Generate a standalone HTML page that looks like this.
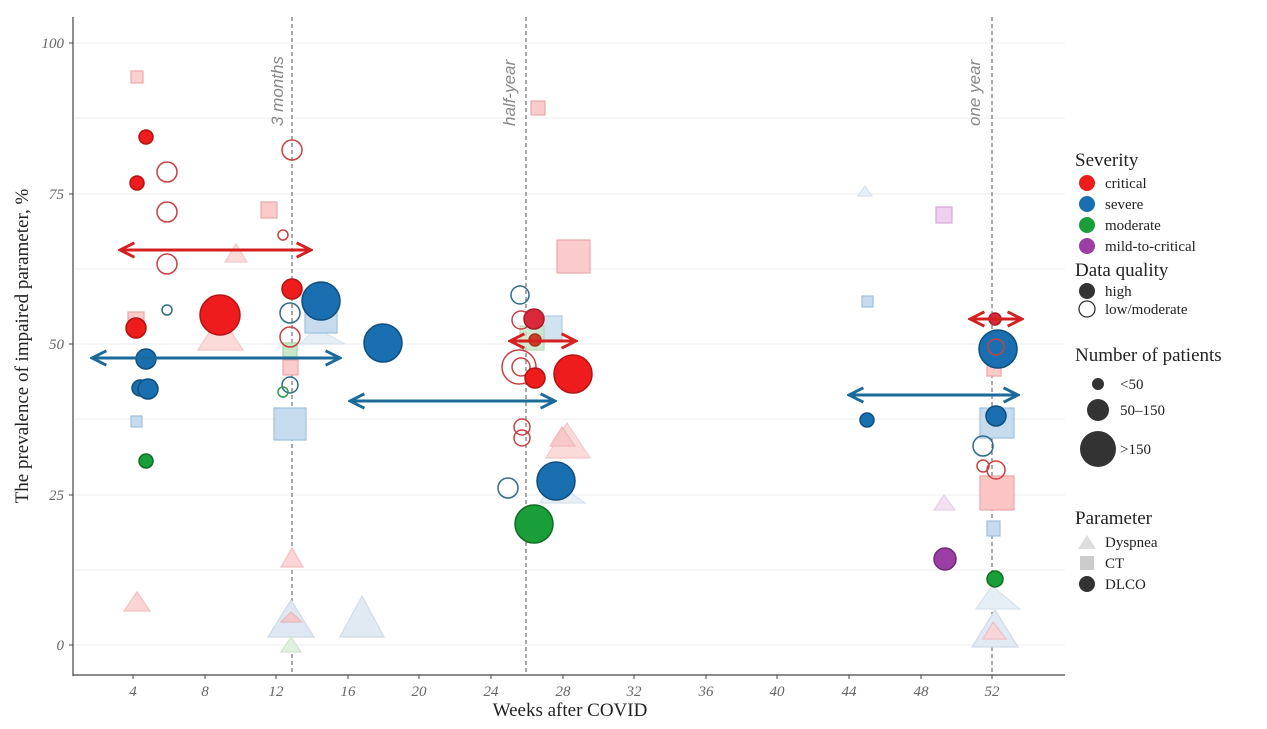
<!DOCTYPE html>
<html><head><meta charset="utf-8"><style>
body{margin:0;background:#fff;}
svg text{font-family:"Liberation Serif",serif;}
</style></head><body>
<svg width="1267" height="724" viewBox="0 0 1267 724" xmlns="http://www.w3.org/2000/svg">
<defs>
<marker id="ar" viewBox="0 0 10 10" refX="9" refY="5" markerWidth="6" markerHeight="6" orient="auto-start-reverse"><path d="M1,1 L9,5 L1,9" fill="none" stroke="context-stroke" stroke-width="1.6"/></marker>
</defs>
<g stroke="#f0f0f0" stroke-width="1.2">
<line x1="74" x2="1065" y1="43" y2="43"/><line x1="74" x2="1065" y1="118" y2="118"/>
<line x1="74" x2="1065" y1="194" y2="194"/><line x1="74" x2="1065" y1="269" y2="269"/>
<line x1="74" x2="1065" y1="344" y2="344"/><line x1="74" x2="1065" y1="419" y2="419"/>
<line x1="74" x2="1065" y1="495" y2="495"/><line x1="74" x2="1065" y1="570" y2="570"/>
<line x1="74" x2="1065" y1="645" y2="645"/>
</g>
<line x1="73" y1="17" x2="73" y2="676" stroke="#444" stroke-width="1.2"/>
<line x1="73" y1="675" x2="1065" y2="675" stroke="#444" stroke-width="1.2"/>
<g stroke="#444" stroke-width="1">
<line x1="69" x2="73" y1="43" y2="43"/><line x1="69" x2="73" y1="194" y2="194"/><line x1="69" x2="73" y1="344" y2="344"/><line x1="69" x2="73" y1="495" y2="495"/><line x1="69" x2="73" y1="645" y2="645"/>
<line x1="133" x2="133" y1="675" y2="679"/><line x1="205" x2="205" y1="675" y2="679"/><line x1="276" x2="276" y1="675" y2="679"/><line x1="348" x2="348" y1="675" y2="679"/><line x1="419" x2="419" y1="675" y2="679"/><line x1="491" x2="491" y1="675" y2="679"/><line x1="563" x2="563" y1="675" y2="679"/><line x1="634" x2="634" y1="675" y2="679"/><line x1="706" x2="706" y1="675" y2="679"/><line x1="777" x2="777" y1="675" y2="679"/><line x1="849" x2="849" y1="675" y2="679"/><line x1="921" x2="921" y1="675" y2="679"/><line x1="992" x2="992" y1="675" y2="679"/>
</g>
<g font-size="15" fill="#666" font-style="italic" text-anchor="end">
<text x="64" y="48">100</text><text x="64" y="199">75</text><text x="64" y="349">50</text><text x="64" y="500">25</text><text x="64" y="650">0</text>
</g>
<g font-size="15" fill="#666" font-style="italic" text-anchor="middle">
<text x="133" y="696">4</text><text x="205" y="696">8</text><text x="276" y="696">12</text><text x="348" y="696">16</text><text x="419" y="696">20</text><text x="491" y="696">24</text><text x="563" y="696">28</text><text x="634" y="696">32</text><text x="706" y="696">36</text><text x="777" y="696">40</text><text x="849" y="696">44</text><text x="921" y="696">48</text><text x="992" y="696">52</text>
</g>
<text x="570" y="716" font-size="19" fill="#222" text-anchor="middle">Weeks after COVID</text>
<text transform="translate(28,346) rotate(-90)" font-size="19" fill="#222" text-anchor="middle">The prevalence of impaired parameter, %</text>
<g stroke="#555" stroke-dasharray="4,3" stroke-width="1">
<line x1="292" y1="17" x2="292" y2="675"/><line x1="526" y1="17" x2="526" y2="675"/><line x1="992" y1="17" x2="992" y2="675"/>
</g>
<g font-size="17" fill="#888" font-style="italic">
<text transform="translate(283,126) rotate(-90)" style="font-family:'Liberation Sans',sans-serif">3 months</text>
<text transform="translate(515,126) rotate(-90)" style="font-family:'Liberation Sans',sans-serif">half-year</text>
<text transform="translate(980,126) rotate(-90)" style="font-family:'Liberation Sans',sans-serif">one year</text>
</g>
<g stroke-width="1.2">
<polygon points="137,592 124,611 150,611" fill="#fbd5d5" stroke="#f5c0c0"/>
<polygon points="292,548 281,567 303,567" fill="#fbd5d5" stroke="#f5c0c0"/>
<polygon points="220,315 198,350 243,350" fill="#fbdada" stroke="#f5c8c8"/>
<polygon points="236,244 225,262 247,262" fill="#fbdada" stroke="#f5c8c8"/>
<polygon points="291,600 268,637 314,637" fill="#dfe8f2" stroke="#cfdbe8"/>
<polygon points="291,612 281,622 302,622 " fill="#f3c9cc" stroke="#e8b8bc"/>
<polygon points="291,637 281,652 301,652" fill="#e1f0e1" stroke="#d0e5d0"/>
<polygon points="362,596 340,637 384,637" fill="#e1e9f3" stroke="#d0dbe8"/>
<polygon points="316,328 300,344 345,344" fill="#e6eef6" stroke="#d8e2ee"/>
<polygon points="567,423 546,458 590,458" fill="#fbdada" stroke="#f5c8c8"/>
<polygon points="562,427 550,446 575,446" fill="#f7c8c8" stroke="#f0b8b8"/>
<polygon points="553,480 540,503 585,503" fill="#e6eef6" stroke="#d8e2ee"/>
<polygon points="865,186 858,196 872,196" fill="#e6eef6" stroke="#d8e2ee"/>
<polygon points="944,495 934,510 955,510" fill="#f1e1f1" stroke="#e6d0e6"/>
<polygon points="992,586 976,609 1020,609" fill="#e6eef6" stroke="#d8e2ee"/>
<polygon points="995,610 972,647 1018,647" fill="#e1e9f3" stroke="#d0dbe8"/>
<polygon points="993,622 983,639 1006,639" fill="#f7d5d8" stroke="#eebfc4"/>
</g>
<g stroke-width="1.2">
<rect x="131" y="71" width="12" height="12" fill="#fbd0d0" stroke="#f0a8a8"/>
<rect x="261" y="202" width="16" height="16" fill="#fbcbcb" stroke="#eaa8a8"/>
<rect x="128" y="312" width="16" height="14" fill="#fbcbcb" stroke="#eaa8a8"/>
<rect x="131" y="416" width="11" height="11" fill="#c6dcee" stroke="#9fc0dc"/>
<rect x="274" y="408" width="32" height="32" fill="#c6dcee" stroke="#9fc0dc"/>
<rect x="283" y="360" width="15" height="15" fill="#fbcbcb" stroke="#eaa8a8"/>
<rect x="283" y="343" width="14" height="14" fill="#c8e8c8" stroke="#a8d4a8"/>
<rect x="305" y="309" width="32" height="24" fill="#c6dcee" stroke="#9fc0dc"/>
<rect x="557" y="240" width="33" height="33" fill="#fbcbcb" stroke="#eaa8a8"/>
<rect x="531" y="101" width="14" height="14" fill="#fbcbcb" stroke="#eaa8a8"/>
<rect x="538" y="316" width="24" height="24" fill="#c6dcee" stroke="#9fc0dc" opacity=".8"/>
<rect x="520" y="326" width="24" height="24" fill="#c8e8c8" stroke="#a8d4a8" opacity=".8"/>
<rect x="862" y="296" width="11" height="11" fill="#c6dcee" stroke="#9fc0dc"/>
<rect x="936" y="207" width="16" height="16" fill="#f0d0f0" stroke="#d8a8d8"/>
<rect x="980" y="408" width="34" height="30" fill="#c6dcee" stroke="#9fc0dc"/>
<rect x="980" y="476" width="34" height="34" fill="#fbc5c5" stroke="#eaa8a8"/>
<rect x="987" y="521" width="13" height="15" fill="#c6dcee" stroke="#9fc0dc"/>
<rect x="987" y="362" width="14" height="14" fill="#fbcbcb" stroke="#eaa8a8"/>
</g>
<g stroke-width="1.5">
<circle cx="146" cy="137" r="7" fill="#ee1c1c" stroke="#b51212"/>
<circle cx="137" cy="183" r="7" fill="#ee1c1c" stroke="#b51212"/>
<circle cx="167" cy="172" r="10" fill="none" stroke="#c84040"/>
<circle cx="167" cy="212" r="10" fill="none" stroke="#c84040"/>
<circle cx="167" cy="264" r="10" fill="none" stroke="#c84040"/>
<circle cx="167" cy="310" r="5" fill="none" stroke="#2d6a8c"/>
<circle cx="136" cy="328" r="10" fill="#ee1c1c" stroke="#b51212"/>
<circle cx="220" cy="315" r="20" fill="#ee1c1c" stroke="#b51212"/>
<circle cx="146" cy="359" r="10" fill="#1a6fb0" stroke="#0f4f80"/>
<circle cx="140" cy="388" r="8" fill="#1a6fb0" stroke="#0f4f80"/>
<circle cx="148" cy="389" r="10" fill="#1a6fb0" stroke="#0f4f80"/>
<circle cx="146" cy="461" r="7" fill="#1a9e3a" stroke="#0e6e24"/>
<circle cx="292" cy="150" r="10" fill="none" stroke="#c84040"/>
<circle cx="283" cy="235" r="5" fill="none" stroke="#c84040"/>
<circle cx="292" cy="289" r="10" fill="#ee1c1c" stroke="#b51212"/>
<circle cx="321" cy="301" r="19" fill="#1a6fb0" stroke="#0f4f80"/>
<circle cx="290" cy="313" r="10" fill="none" stroke="#2d6a8c"/>
<circle cx="290" cy="337" r="10" fill="none" stroke="#c84040"/>
<circle cx="290" cy="385" r="8" fill="none" stroke="#2d6a8c"/>
<circle cx="283" cy="392" r="5" fill="none" stroke="#2e9e40"/>
<circle cx="383" cy="343" r="19" fill="#1a6fb0" stroke="#0f4f80"/>
<circle cx="520" cy="295" r="9" fill="none" stroke="#2d6a8c"/>
<circle cx="521" cy="320" r="9" fill="none" stroke="#c84040"/>
<circle cx="519" cy="367" r="17" fill="none" stroke="#c84040"/>
<circle cx="521" cy="367" r="9" fill="none" stroke="#c84040"/>
<circle cx="534" cy="319" r="10" fill="#d8283a" stroke="#a81a2a"/>
<circle cx="535" cy="340" r="6" fill="#c8402a" stroke="#a83020"/>
<circle cx="535" cy="378" r="10" fill="#ee1c1c" stroke="#b51212"/>
<circle cx="573" cy="374" r="19" fill="#ee1c1c" stroke="#b51212"/>
<circle cx="522" cy="427" r="8" fill="none" stroke="#c84040"/>
<circle cx="522" cy="438" r="8" fill="none" stroke="#c84040"/>
<circle cx="508" cy="488" r="10" fill="none" stroke="#2d6a8c"/>
<circle cx="556" cy="481" r="19" fill="#1a6fb0" stroke="#0f4f80"/>
<circle cx="534" cy="524" r="19" fill="#1a9e3a" stroke="#0e6e24"/>
<circle cx="867" cy="420" r="7" fill="#1a6fb0" stroke="#0f4f80"/>
<circle cx="945" cy="559" r="11" fill="#9b3fa6" stroke="#6e2a78"/>
<circle cx="998" cy="349" r="19" fill="#1a6fb0" stroke="#0f4f80"/>
<circle cx="996" cy="347" r="8" fill="none" stroke="#c84040"/>
<circle cx="995" cy="319" r="6" fill="#d8283a" stroke="#a81a2a"/>
<circle cx="996" cy="416" r="10" fill="#1a6fb0" stroke="#0f4f80"/>
<circle cx="983" cy="446" r="10" fill="none" stroke="#2d6a8c"/>
<circle cx="983" cy="466" r="6" fill="none" stroke="#c84040"/>
<circle cx="996" cy="470" r="9" fill="none" stroke="#c84040"/>
<circle cx="995" cy="579" r="8" fill="#1a9e3a" stroke="#0e6e24"/>
</g>
<g stroke-width="3" fill="none">
<line x1="120" y1="250" x2="311" y2="250" stroke="#d42020" marker-start="url(#ar)" marker-end="url(#ar)"/>
<line x1="92" y1="358" x2="340" y2="358" stroke="#1a6a9a" marker-start="url(#ar)" marker-end="url(#ar)"/>
<line x1="350" y1="401" x2="555" y2="401" stroke="#1a6a9a" marker-start="url(#ar)" marker-end="url(#ar)"/>
<line x1="510" y1="341" x2="576" y2="341" stroke="#d42020" marker-start="url(#ar)" marker-end="url(#ar)"/>
<line x1="849" y1="395" x2="1018" y2="395" stroke="#1a6a9a" marker-start="url(#ar)" marker-end="url(#ar)"/>
<line x1="970" y1="319" x2="1022" y2="319" stroke="#d42020" marker-start="url(#ar)" marker-end="url(#ar)"/>
</g>
<g font-size="15" fill="#222">
<text x="1075" y="166" font-size="19">Severity</text>
<circle cx="1087" cy="183" r="8" fill="#ee1c1c"/><text x="1105" y="188">critical</text>
<circle cx="1087" cy="204" r="8" fill="#1a6fb0"/><text x="1105" y="209">severe</text>
<circle cx="1087" cy="225" r="8" fill="#1a9e3a"/><text x="1105" y="230">moderate</text>
<circle cx="1087" cy="246" r="8" fill="#9b3fa6"/><text x="1105" y="251">mild-to-critical</text>
<text x="1075" y="276" font-size="19">Data quality</text>
<circle cx="1087" cy="291" r="8" fill="#333"/><text x="1105" y="296">high</text>
<circle cx="1087" cy="309" r="8" fill="none" stroke="#333" stroke-width="1.3"/><text x="1105" y="314">low/moderate</text>
<text x="1075" y="361" font-size="19">Number of patients</text>
<circle cx="1098" cy="384" r="6" fill="#333"/><text x="1120" y="389">&lt;50</text>
<circle cx="1098" cy="410" r="11" fill="#333"/><text x="1120" y="415">50–150</text>
<circle cx="1098" cy="449" r="18" fill="#333"/><text x="1120" y="454">&gt;150</text>
<text x="1075" y="524" font-size="19">Parameter</text>
<polygon points="1087,535 1078,549 1096,549" fill="#ddd"/><text x="1105" y="547">Dyspnea</text>
<rect x="1080" y="556" width="14" height="14" fill="#ccc"/><text x="1105" y="568">CT</text>
<circle cx="1087" cy="584" r="8" fill="#333"/><text x="1105" y="589">DLCO</text>
</g>
</svg>
</body></html>
